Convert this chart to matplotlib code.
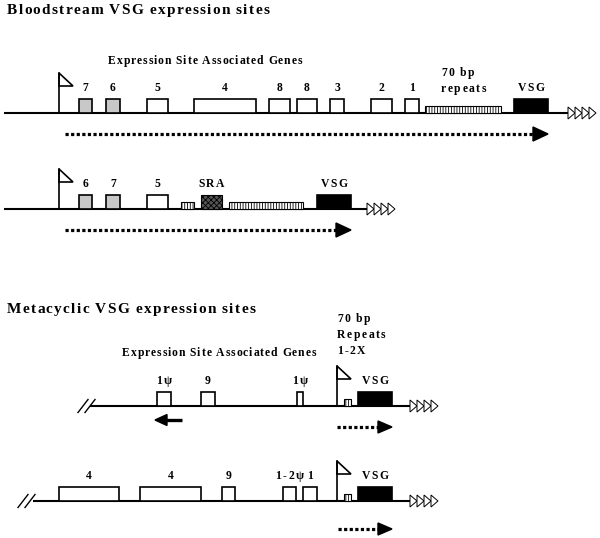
# VSG expression site diagram (bloodstream and metacyclic)

import matplotlib.pyplot as plt
from matplotlib.patches import Rectangle, Polygon
from matplotlib.font_manager import FontProperties, findfont, get_font

# gene blocks per site: label, start, end, kind
# kind: g = grey ESAG, w = white ESAG, r = 70 bp repeats, s = SRA, v = VSG
bs1_labels = ["7", "6", "5", "4", "8", "8", "3", "2", "1", "", "VSG"]
bs1_start = [79, 106, 147, 194, 269, 297, 330, 371, 405, 425, 514]
bs1_end = [92, 120, 168, 256, 290, 317, 344, 392, 419, 501, 548]
bs1_kind = ["g", "g", "w", "w", "w", "w", "w", "w", "w", "r", "v"]

bs2_labels = ["6", "7", "5", "", "SRA", "", "VSG"]
bs2_start = [79, 106, 147, 181, 201, 229, 317]
bs2_end = [92, 120, 168, 194, 222, 303, 351]
bs2_kind = ["g", "g", "w", "r", "s", "r", "v"]

mc1_labels = ["1\u03c8", "9", "1\u03c8", "", "VSG"]
mc1_start = [157, 201, 297, 344, 358]
mc1_end = [171, 215, 303, 351, 392]
mc1_kind = ["w", "w", "w", "r", "v"]

mc2_labels = ["4", "4", "9", "1-2\u03c8", "1", "", "VSG"]
mc2_start = [59, 140, 222, 283, 303, 344, 358]
mc2_end = [119, 201, 235, 296, 317, 351, 392]
mc2_kind = ["w", "w", "w", "w", "w", "r", "v"]

plt.rcParams['hatch.linewidth'] = 0.6

fig = plt.figure(figsize=(6, 5.38), dpi=100)
ax = fig.add_axes([0, 0, 1, 1])
ax.set_xlim(0, 600)
ax.set_ylim(538, 0)
ax.axis('off')

FAM = 'Liberation Serif'
font = get_font(findfont(FontProperties(family=FAM, weight='bold')))


def adv(ch, size):
    # glyph advance in pixels
    font.set_size(size, 72)
    g = font.load_char(ord(ch))
    return g.linearHoriAdvance / 65536 * 100 / 72


def spaced(x, y, s, size, track=1.5, ha='left', width=None):
    # letter-spaced bold serif text (the original is tracked out)
    a = [adv(c, size) for c in s]
    if width is not None:
        track = (width - sum(a)) / (len(s) - 1)
    total = sum(a) + track * (len(s) - 1)
    if ha == 'center':
        x -= total / 2
    for c, w in zip(s, a):
        ax.text(x, y, c, fontsize=size, family=FAM, weight='bold',
                ha='left', va='baseline')
        x += w + track


def site(y, x_start, x_end, labels, starts, ends, kinds, flag_x):
    ax.plot([x_start, x_end], [y, y], color='k', lw=1.5, solid_capstyle='butt', zorder=1)
    for lab, a, b, k in zip(labels, starts, ends, kinds):
        h = 7 if k == 'r' else 14
        if k == 'g':
            p = Rectangle((a, y - h), b - a, h, fc='#c8c8c8', ec='k', lw=1.2)
        elif k == 'r':
            p = Rectangle((a, y - h), b - a, h, fc='white', ec='k', lw=0.8, hatch='||||||')
        elif k == 's':
            p = Rectangle((a, y - h), b - a, h, fc='#555555', ec='k', lw=0.8, hatch='xxxxxx')
        elif k == 'v':
            p = Rectangle((a, y - h), b - a, h, fc='k', ec='k', lw=1.2)
        else:
            p = Rectangle((a, y - h), b - a, h, fc='white', ec='k', lw=1.2)
        ax.add_patch(p)
        if lab:
            spaced((a + b) / 2, y - 22, lab, 8.4, ha='center')
    # telomere repeats
    for i in range(4):
        xs = x_end + i * 7
        ax.add_patch(Polygon([[xs, y - 6], [xs + 7, y], [xs, y + 6]],
                             closed=True, fc='white', ec='k', lw=0.7))
    # promoter flag
    ax.plot([flag_x, flag_x], [y, y - 40], color='k', lw=1.2)
    ax.add_patch(Polygon([[flag_x, y - 40], [flag_x + 14, y - 27], [flag_x, y - 27]],
                         closed=True, fill=False, ec='k', lw=1.2))


def dotted_arrow(y, x0, x1, head=15, hw=7):
    ax.plot([x0, x1 - head], [y, y], color='k', lw=2.3,
            linestyle=(0, (1, 0.75)), dash_capstyle='butt')
    ax.add_patch(Polygon([[x1 - head, y - hw], [x1, y], [x1 - head, y + hw]],
                         closed=True, fc='k', ec='k'))


def break_mark(x, y):
    for dx in (0, 7):
        ax.plot([x + dx, x + dx + 10], [y + 6.5, y - 6.5], color='k', lw=1)


# Bloodstream
spaced(7, 14, "Bloodstream VSG expression sites", 11, width=262)
spaced(108, 64, "Expression Site Associated Genes", 8.4, width=194)
spaced(441, 76, "70 bp", 8.4)
spaced(441, 92, "repeats", 8.4)
site(113, 4, 568, bs1_labels, bs1_start, bs1_end, bs1_kind, 59)
dotted_arrow(134, 65, 548)

site(209, 4, 367, bs2_labels, bs2_start, bs2_end, bs2_kind, 59)
dotted_arrow(230, 65, 351)

# Metacyclic
spaced(7, 313, "Metacyclic VSG expression sites", 11, width=248)
spaced(122, 356, "Expression Site Associated Genes", 8.4, width=194)
spaced(337, 322, "70 bp", 8.4)
spaced(337, 338, "Repeats", 8.4)
spaced(337, 354, "1-2X", 8.4)
site(406, 90, 410, mc1_labels, mc1_start, mc1_end, mc1_kind, 337)
break_mark(78, 406)
# ESAG transcription runs leftwards here
ax.plot([182, 166], [420, 420], color='k', lw=2.4, solid_capstyle='butt')
ax.add_patch(Polygon([[167, 414.5], [155, 420], [167, 425.5]], closed=True, fc='k', ec='k'))
dotted_arrow(427, 337, 392, head=14, hw=6)

site(501, 33, 410, mc2_labels, mc2_start, mc2_end, mc2_kind, 337)
break_mark(18, 501)
dotted_arrow(529, 338, 392, head=14, hw=6)

fig.savefig('out.png', dpi=100)
